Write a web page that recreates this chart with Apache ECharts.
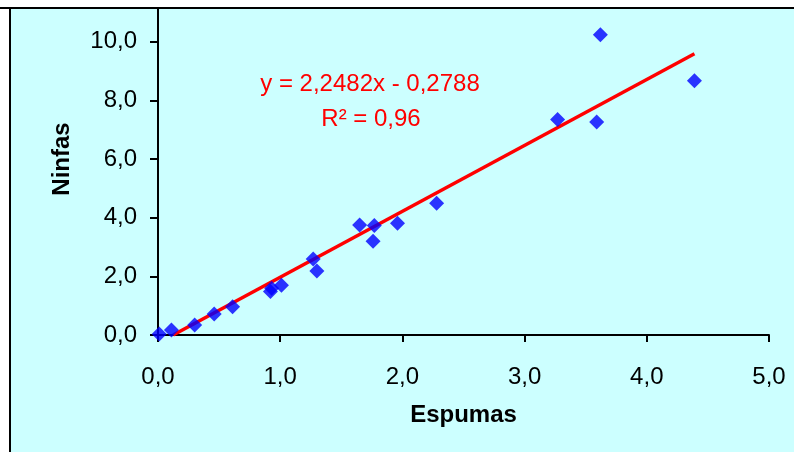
<!DOCTYPE html>
<html>
<head>
<meta charset="utf-8">
<script src="https://cdn.jsdelivr.net/npm/echarts@6/dist/echarts.min.js"></script>
<style>
  html, body { margin: 0; padding: 0; background: #fff; }
  #main { width: 794px; height: 452px; }
</style>
</head>
<body>
<div id="main"></div>
<script>
// Espumas vs Ninfas
var espumas = [0.01, 0.11, 0.30, 0.46, 0.61, 0.92, 0.93, 1.01, 1.27, 1.30, 1.65, 1.77, 1.76, 1.96, 2.28, 3.27, 3.59, 3.62, 4.39];
var ninfas  = [0.03, 0.17, 0.34, 0.72, 0.96, 1.48, 1.59, 1.70, 2.59, 2.18, 3.75, 3.73, 3.20, 3.81, 4.49, 7.35, 7.26, 10.24, 8.67];
// linea de tendencia (Excel)
var pendiente = 2.2482;
var intercepto = -0.2788;
var r2 = '0,96';
var trendX = [-intercepto / pendiente, 4.39];

var puntos = espumas.map(function (x, i) { return [x, ninfas[i]]; });
var tendencia = trendX.map(function (x) { return [x, pendiente * x + intercepto]; });

function coma(v) { return v.toFixed(1).replace('.', ','); }

var font = 'Liberation Sans, Arial, sans-serif';

var option = {
  backgroundColor: '#ffffff',
  animation: false,
  grid: { left: 158, right: 25, top: -17, bottom: 117, outerBoundsMode: 'none', containLabel: false },
  xAxis: {
    type: 'value', min: 0, max: 5, interval: 1,
    name: 'Espumas', nameLocation: 'middle', nameGap: 68,
    nameTextStyle: { fontFamily: font, fontSize: 24, fontWeight: 'bold', color: '#000' },
    axisLine: { lineStyle: { color: '#000', width: 2 } },
    axisTick: { length: 7, lineStyle: { color: '#000', width: 2 } },
    axisLabel: { margin: 30, fontFamily: font, fontSize: 24, color: '#000', formatter: coma },
    splitLine: { show: false }
  },
  yAxis: {
    type: 'value', min: 0, max: 12, interval: 2,
    name: 'Ninfas', nameLocation: 'middle', nameGap: 84, nameRotate: 90,
    nameTextStyle: { fontFamily: font, fontSize: 24, fontWeight: 'bold', color: '#000' },
    axisLine: { show: true, lineStyle: { color: '#000', width: 2 } },
    axisTick: { show: true, length: 8, lineStyle: { color: '#000', width: 2 } },
    axisLabel: { margin: 21, fontFamily: font, fontSize: 24, color: '#000', formatter: coma },
    splitLine: { show: false }
  },
  graphic: [
    { type: 'rect', z: -10, silent: true, shape: { x: 10, y: 8, width: 800, height: 460 },
      style: { fill: '#ccffff', stroke: '#000', lineWidth: 2 } },
    { type: 'rect', z: 100, silent: true, shape: { x: 0, y: 0, width: 794, height: 7 },
      style: { fill: '#ffffff' } },
    { type: 'line', z: 100, silent: true, shape: { x1: 0, y1: 8, x2: 794, y2: 8 },
      style: { stroke: '#000', lineWidth: 2 } },
    { type: 'text', z: 50, x: 370, y: 84,
      style: { text: 'y = 2,2482x - 0,2788', fill: '#ff0000', font: '24px ' + font,
               textAlign: 'center', textVerticalAlign: 'middle' } },
    { type: 'text', z: 50, x: 371, y: 119,
      style: { text: 'R\u00b2 = ' + r2, fill: '#ff0000', font: '24px ' + font,
               textAlign: 'center', textVerticalAlign: 'middle' } }
  ],
  series: [
    {
      type: 'line',
      data: tendencia,
      showSymbol: false,
      lineStyle: { color: '#ff0000', width: 3.5 },
      z: 3
    },
    {
      type: 'scatter',
      data: puntos,
      symbol: 'diamond',
      symbolSize: 15,
      itemStyle: { color: '#0000ff' },
      z: 4
    }
  ]
};

var myChart = echarts.init(document.getElementById('main'));
myChart.setOption(option);
</script>
</body>
</html>
